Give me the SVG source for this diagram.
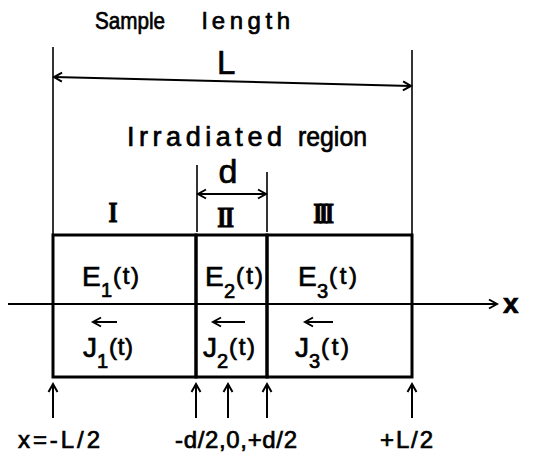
<svg xmlns="http://www.w3.org/2000/svg" width="552" height="454" viewBox="0 0 552 454">
<defs>
<marker id="ah" markerWidth="12" markerHeight="12" refX="9" refY="5" orient="auto-start-reverse" markerUnits="userSpaceOnUse" viewBox="0 0 12 10">
<path d="M1,0.5 L9,5 L1,9.5" fill="none" stroke="#000" stroke-width="2"/>
</marker>
<style>
text{font-family:"Liberation Sans",Arial,sans-serif;fill:#000;stroke:#000;stroke-width:0.7}
.t24{font-size:24px}
.big{font-size:28px}
.sub{font-size:20px}
.par{font-size:24px}
.rom{font-family:"Liberation Serif","Times New Roman",serif;font-weight:bold;font-size:29px;stroke-width:1}
.ln{stroke:#000;stroke-width:1.6;fill:none}
.ar{stroke:#000;stroke-width:2;fill:none;marker-end:url(#ah)}
.ar2{stroke:#000;stroke-width:2;fill:none;marker-start:url(#ah);marker-end:url(#ah)}
.box{stroke:#000;stroke-width:3;fill:none}
</style>
</defs>
<rect width="552" height="454" fill="#fff"/>

<g id="labels-top">
<text y="29" style="font-size:24px"><tspan x="95" textLength="70" lengthAdjust="spacingAndGlyphs">Sample</tspan><tspan x="202" textLength="88" lengthAdjust="spacing">length</tspan></text>
<text x="217" y="74" style="font-size:33px">L</text>
<text y="146" style="font-size:27px"><tspan x="127" textLength="155" lengthAdjust="spacing">Irradiated</tspan><tspan x="298" textLength="69" lengthAdjust="spacingAndGlyphs">region</tspan></text>
<text x="228" y="183" text-anchor="middle" style="font-size:34px">d</text>
<text class="rom" transform="translate(113,222) scale(0.8,1)" text-anchor="middle">I</text>
<text class="rom" transform="translate(225,227) scale(0.8,1)" text-anchor="middle" letter-spacing="-1.5">II</text>
<text class="rom" transform="translate(322,223) scale(0.8,1)" text-anchor="middle" letter-spacing="-4">III</text>
</g>

<g id="connectors">
<line class="ln" x1="53" y1="47" x2="53" y2="235"/>
<line class="ln" x1="412" y1="50" x2="412" y2="235"/>
<line class="ar2" x1="54" y1="77" x2="411" y2="86"/>
<line class="ln" x1="197" y1="165" x2="197" y2="232"/>
<line class="ln" x1="267" y1="172" x2="267" y2="232"/>
<line class="ar2" x1="198" y1="194" x2="266" y2="194"/>
<line class="ar" x1="8" y1="304" x2="497" y2="304"/>
<line class="ar" x1="53" y1="418" x2="53" y2="384"/>
<line class="ar" x1="196" y1="418" x2="196" y2="384"/>
<line class="ar" x1="228" y1="418" x2="228" y2="384"/>
<line class="ar" x1="267" y1="418" x2="267" y2="384"/>
<line class="ar" x1="412" y1="418" x2="412" y2="384"/>
<line class="ar" x1="117" y1="322" x2="93" y2="322"/>
<line class="ar" x1="245" y1="322" x2="213" y2="322"/>
<line class="ar" x1="333" y1="322" x2="305" y2="322"/>
</g>

<g id="region-I">
<rect class="box" x="53" y="235" width="143" height="142"/>
<text><tspan class="big" x="82" y="286">E</tspan><tspan class="sub" x="101" y="297">1</tspan><tspan class="par" x="113" y="284" textLength="26" lengthAdjust="spacing">(t)</tspan></text>
<text><tspan class="big" x="83" y="357">J</tspan><tspan class="sub" x="97" y="368">1</tspan><tspan class="par" x="109" y="355" textLength="24" lengthAdjust="spacing">(t)</tspan></text>
</g>
<g id="region-II">
<rect class="box" x="196" y="235" width="71" height="142"/>
<text><tspan class="big" x="205" y="286">E</tspan><tspan class="sub" x="224" y="298">2</tspan><tspan class="par" x="236" y="284" textLength="27" lengthAdjust="spacing">(t)</tspan></text>
<text><tspan class="big" x="203" y="357">J</tspan><tspan class="sub" x="217" y="368">2</tspan><tspan class="par" x="229" y="355" textLength="26" lengthAdjust="spacing">(t)</tspan></text>
</g>
<g id="region-III">
<rect class="box" x="267" y="235" width="145" height="142"/>
<text><tspan class="big" x="298" y="286">E</tspan><tspan class="sub" x="317" y="298">3</tspan><tspan class="par" x="329" y="284" textLength="28" lengthAdjust="spacing">(t)</tspan></text>
<text><tspan class="big" x="295" y="357">J</tspan><tspan class="sub" x="309" y="368">3</tspan><tspan class="par" x="321" y="355" textLength="28" lengthAdjust="spacing">(t)</tspan></text>
</g>

<g id="axis-label">
<text x="503" y="313" style="font-size:28px;font-weight:bold">x</text>
</g>

<g id="labels-bottom">
<text class="t24" x="18" y="448" textLength="82" lengthAdjust="spacing">x=-L/2</text>
<text class="t24" x="175" y="448" textLength="122" lengthAdjust="spacing">-d/2,0,+d/2</text>
<text class="t24" x="380" y="448" textLength="53" lengthAdjust="spacing">+L/2</text>
</g>
</svg>
